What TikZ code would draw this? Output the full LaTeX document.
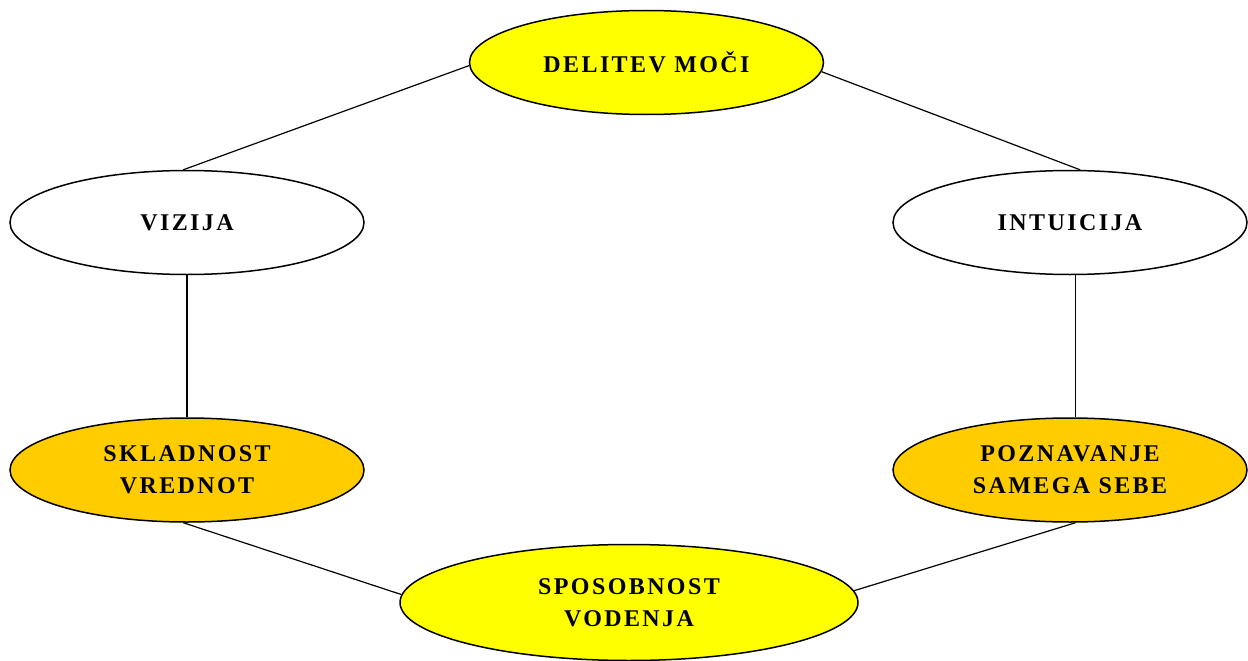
\documentclass[tikz,border=0pt]{standalone}
\usepackage{fontspec}
\setmainfont{Liberation Serif}
\usetikzlibrary{shapes.geometric}
\definecolor{lightyel}{HTML}{FFFF00}
\definecolor{goldyel}{HTML}{FFCC00}
\newfontfamily\labelfont[LetterSpace=10]{Liberation Serif Bold}
\tikzset{
  oval/.style={ellipse, draw=black, line width=1.5pt, inner sep=0pt,
    minimum width=354pt, minimum height=104pt, align=center,
    font=\labelfont\fontsize{24}{32}\selectfont},
  link/.style={draw=black, line width=1.2pt}
}
\begin{document}
\begin{tikzpicture}[x=1pt, y=-1pt]
  \useasboundingbox (0,0) rectangle (1248,661);
  \node[oval, fill=lightyel] (del) at (646.5,62.5) {DELITEV MOČI};
  \node[oval, fill=white] (viz) at (187,222.5) {VIZIJA};
  \node[oval, fill=white] (int) at (1070,222.5) {INTUICIJA};
  \node[oval, fill=goldyel] (skl) at (187,470) {SKLADNOST\\VREDNOT};
  \node[oval, fill=goldyel] (poz) at (1070,470) {POZNAVANJE\\SAMEGA SEBE};
  \node[oval, fill=lightyel, minimum width=458pt, minimum height=116pt] (spo) at (629,602.5) {SPOSOBNOST\\VODENJA};
  \draw[link] (del.181) -- (viz.94);
  \draw[link] (del.-3) -- (int.79);
  \draw[link] (viz.south) -- (skl.north);
  \draw[link] (int.-84.5) -- (poz.84.5);
  \draw[link] (skl.-94) -- (spo.178);
  \draw[link] (poz.-84.5) -- (spo.3.5);
\end{tikzpicture}
\end{document}
